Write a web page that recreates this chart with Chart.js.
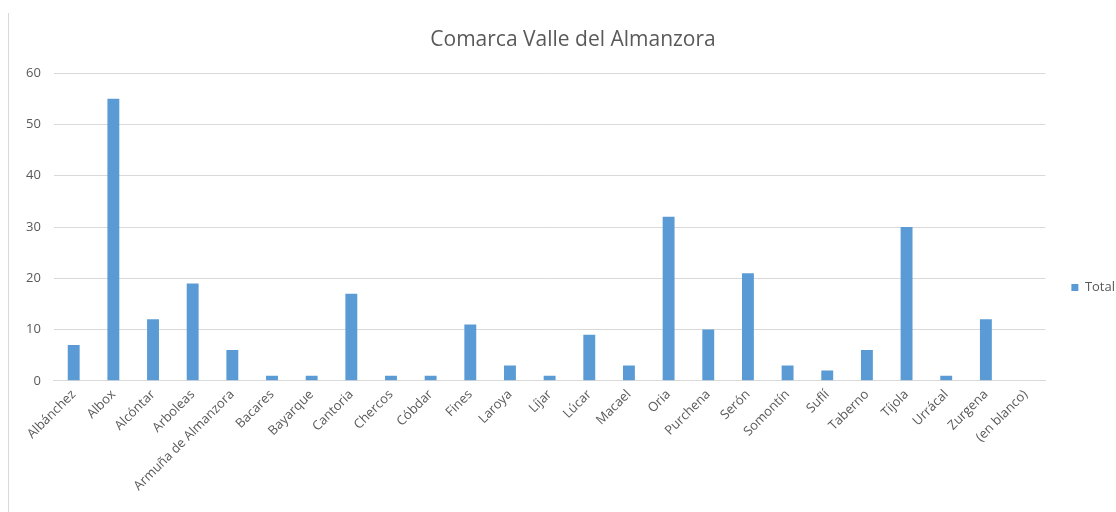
<!DOCTYPE html>
<html>
<head>
<meta charset="utf-8">
<script src="https://cdn.jsdelivr.net/npm/chart.js@4"></script>
<style>
  html, body { margin: 0; padding: 0; background: #fff; }
  #wrap { position: relative; width: 1116px; height: 512px; }
  #edge { position: absolute; left: 8px; top: 13px; width: 1px; height: 499px; background: #d9d9d9; }
  #grafica { position: absolute; left: 0; top: 0; }
</style>
</head>
<body>
<div id="wrap">
  <div id="edge"></div>
  <canvas id="grafica" width="1116" height="512"></canvas>
</div>
<script>
// Municipios de la comarca y su total
const municipios = ["Albánchez", "Albox", "Alcóntar", "Arboleas", "Armuña de Almanzora", "Bacares",
  "Bayarque", "Cantoria", "Chercos", "Cóbdar", "Fines", "Laroya", "Líjar", "Lúcar", "Macael",
  "Oria", "Purchena", "Serón", "Somontín", "Suflí", "Taberno", "Tíjola", "Urrácal", "Zurgena",
  "(en blanco)"]
const totales = [7, 55, 12, 19, 6, 1, 1, 17, 1, 1, 11, 3, 1, 9, 3, 32, 10, 21, 3, 2, 6, 30, 1, 12, null]
const yTicks = [0, 10, 20, 30, 40, 50, 60]

const fontFamily = "'Open Sans', 'Liberation Sans', sans-serif"
const grey = "#595959"

// nudge the legend and title to where the spreadsheet puts them
const boxShift = {
    id: "boxShift",
    afterLayout(chart) {
        const lg = chart.legend
        if (lg) { lg.top += 29; lg.bottom += 29; lg.left += 14; lg.right += 14 }
        const tt = chart.titleBlock
        if (tt) { tt.left += 11; tt.right += 11; tt.top += 3; tt.bottom += 3 }
    }
}

var grafica = document.getElementById("grafica")
var myBarChart = new Chart(grafica, {
    type: "bar",
    data: {
        labels: municipios,
        datasets: [{
            label: "Total",
            data: totales,
            backgroundColor: "#5b9bd5",
            barPercentage: 0.3,
            categoryPercentage: 1,
        }]
    },
    options: {
        responsive: false,
        animation: false,
        layout: { padding: { left: 13, right: 5, top: 17, bottom: 12 } },
        plugins: {
            title: {
                display: true,
                text: "Comarca Valle del Almanzora",
                color: grey,
                font: { family: fontFamily, size: 21, weight: "normal" },
                padding: { top: 7, bottom: 24 },
            },
            legend: {
                position: "right",
                labels: {
                    color: grey,
                    font: { family: fontFamily, size: 13 },
                    boxWidth: 7,
                    boxHeight: 7,
                    padding: 12,
                },
            },
            tooltip: { enabled: false },
        },
        scales: {
            x: {
                grid: { display: false, drawTicks: false },
                border: { color: "#d9d9d9" },
                ticks: {
                    color: grey,
                    font: { family: fontFamily, size: 13 },
                    minRotation: 45,
                    maxRotation: 45,
                    autoSkip: false,
                    padding: 6,
                },
            },
            y: {
                min: 0,
                max: 60,
                afterBuildTicks: axis => { axis.ticks = yTicks.map(v => ({ value: v })) },
                grid: { color: "#d9d9d9", drawTicks: false },
                border: { display: false },
                ticks: {
                    color: grey,
                    font: { family: fontFamily, size: 13 },
                    padding: 13,
                },
            },
        },
    },
    plugins: [boxShift],
})
</script>
</body>
</html>
